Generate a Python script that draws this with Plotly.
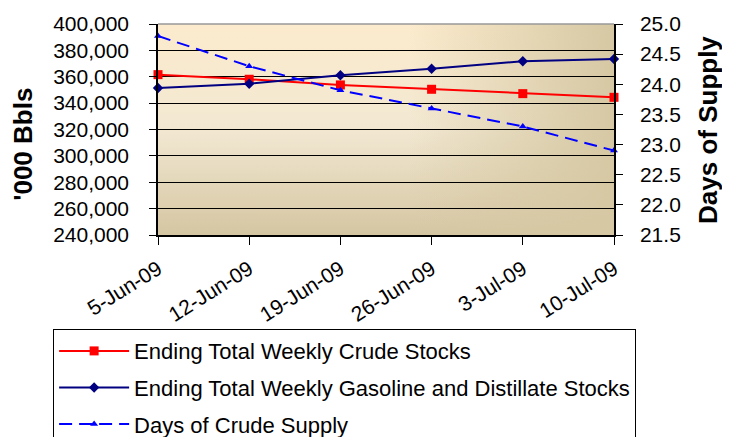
import base64
import plotly.graph_objs as go

dates = ["5-Jun-09", "12-Jun-09", "19-Jun-09", "26-Jun-09", "3-Jul-09", "10-Jul-09"]
crude_stocks = [361600, 358100, 353800, 350500, 347200, 344400]
gas_dist_stocks = [351500, 354700, 361100, 366100, 371700, 373500]
days_supply = [24.8, 24.3, 23.9, 23.6, 23.3, 22.9]

FONT = "Liberation Sans, Arial, sans-serif"

# gradient backdrop for the plot area (excel style fill)
svg = """<svg xmlns='http://www.w3.org/2000/svg' width='456' height='211' viewBox='0 0 456 211' preserveAspectRatio='none'>
<defs>
<linearGradient id='v' x1='0' y1='0' x2='0' y2='1'>
<stop offset='0' stop-color='#fcebcd'/><stop offset='0.5' stop-color='#f2e8d2'/><stop offset='1' stop-color='#d5c6a2'/>
</linearGradient>
<linearGradient id='h' x1='0' y1='0' x2='1' y2='0'>
<stop offset='0' stop-color='#d6c8a3' stop-opacity='0'/><stop offset='0.55' stop-color='#d6c8a3' stop-opacity='0'/><stop offset='1' stop-color='#d6c8a3' stop-opacity='1'/>
</linearGradient>
</defs>
<rect width='456' height='211' fill='url(#v)'/><rect width='456' height='211' fill='url(#h)'/>
</svg>"""
bg_src = "data:image/svg+xml;base64," + base64.b64encode(svg.encode()).decode()

fig = go.Figure()
fig.add_scatter(x=dates, y=crude_stocks, mode='lines+markers', name='Ending Total Weekly Crude Stocks',
                line=dict(color="#ff0000", width=2), marker=dict(size=9, symbol='square'),
                cliponaxis=False, legendgroup='a')
fig.add_scatter(x=dates, y=gas_dist_stocks, mode='lines+markers', name='Ending Total Weekly Gasoline and Distillate Stocks',
                line=dict(color="#000080", width=2), marker=dict(size=8, symbol='diamond'),
                cliponaxis=False, legendgroup='b')
fig.add_scatter(x=dates, y=days_supply, mode='lines+markers', name='Days of Crude Supply', yaxis='y2',
                line=dict(color="#0000ff", width=2, dash='13px,7px'), marker=dict(size=7, symbol='triangle-up'),
                cliponaxis=False, legendgroup='c')

# page body has an 8px margin, so the figure is 8px smaller than the window
fig.update_layout(
    width=722, height=429,
    margin=dict(l=150, r=116, t=16, b=202, autoexpand=False),
    paper_bgcolor='#FFFFFF', plot_bgcolor='rgba(0,0,0,0)',
    font=dict(family=FONT, size=21, color='#000'),
    showlegend=True,
    xaxis=dict(type='category', range=[0, 5], showgrid=False, zeroline=False,
               showline=True, linecolor='#000', linewidth=1.5,
               ticks='outside', ticklen=8, tickcolor='#000', tickangle=-32,
               ticklabelstandoff=4),
    yaxis=dict(range=[240000, 400000], dtick=20000, tickformat=',', showgrid=True, gridcolor='#000', gridwidth=1,
               zeroline=False, showline=True, linecolor='#000', linewidth=1.5,
               ticks='outside', ticklen=7, tickcolor='#000', ticklabelstandoff=16),
    yaxis2=dict(range=[21.5, 25.0], dtick=0.5, tickformat='.1f', overlaying='y', side='right',
                showgrid=False, zeroline=False, showline=True, linecolor='#000', linewidth=1.5,
                ticks='outside', ticklen=7, tickcolor='#000', ticklabelstandoff=13),
    legend=dict(x=-0.23, y=-0.446, xanchor='left', yanchor='top', bgcolor='#FFFFFF',
                bordercolor='#000', borderwidth=1, font=dict(size=22), traceorder='grouped',
                tracegroupgap=5, itemwidth=70),
    images=[dict(source=bg_src, xref='paper', yref='paper', x=0, y=1, sizex=1, sizey=1,
                 sizing='stretch', layer='below')],
    shapes=[dict(type='line', xref='paper', yref='paper', x0=0, x1=1, y0=1, y1=1,
                 line=dict(color='#999', width=1.5))],
    annotations=[
        dict(text="<b>'000 Bbls</b>", xref='paper', yref='paper', x=-0.295, y=0.43, textangle=-90,
             showarrow=False, xanchor='center', yanchor='middle', font=dict(size=26)),
        dict(text="<b>Days of Supply</b>", xref='paper', yref='paper', x=1.205, y=0.5, textangle=-90,
             showarrow=False, xanchor='center', yanchor='middle', font=dict(size=26)),
    ],
)

fig.write_html("out.html")
